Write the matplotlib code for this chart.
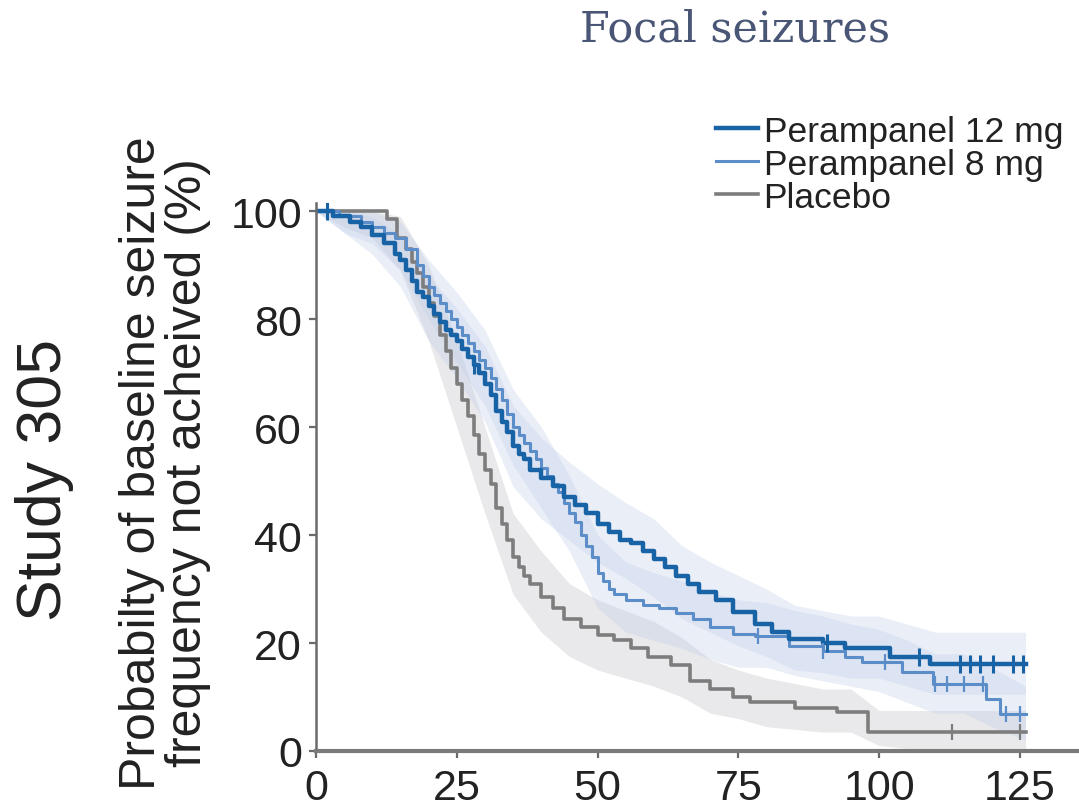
import numpy as np
import matplotlib
matplotlib.use('Agg')
import matplotlib.pyplot as plt

plt.rcParams['font.family'] = ['Liberation Sans', 'DejaVu Sans']

# Kaplan-Meier steps (day, % not achieved)
T_12 = [0, 3, 6, 8, 10, 12, 14, 15, 16, 17, 18, 19, 20, 21, 22, 23, 24, 25, 26, 27,
        28, 29, 30, 31, 32, 33, 34, 35, 36, 37, 38, 40, 42, 44, 46, 48, 50, 52, 54,
        56, 58, 60, 62, 64, 66, 68, 71, 74, 78, 81, 84, 90, 94, 102, 109, 126]
S_12 = [100, 99, 98, 97, 95.5, 94, 92, 91, 89, 87, 85, 84, 82.5, 81, 79.5, 78, 77,
        76, 74.5, 73, 71.5, 70, 68, 66, 63, 61, 59, 56.5, 55, 54, 52, 50.5, 49, 47,
        45.5, 44, 42, 40.5, 39, 38.5, 37, 35.5, 34, 32.5, 31, 29.5, 28, 25.7, 23.5,
        22, 20.7, 20, 19, 17.4, 16.1, 16.1]
C_12 = [2, 28, 90.8, 107, 114.4, 116.2, 118, 120.3, 123.8, 125.5]

T_8 = [0, 4, 8, 10, 12, 14, 16, 18, 19, 20, 21, 22, 23, 24, 25, 26, 27, 28, 29, 30,
       31, 32, 33, 34, 35, 36, 37, 38, 39, 40, 41, 42, 43, 44, 45, 46, 47, 48, 49,
       50, 51, 52, 53, 55, 58, 61, 64, 67, 70, 74, 78, 84, 90, 94, 97, 104, 109.6,
       119, 121.5, 126]
S_8 = [100, 99, 98, 97, 96, 95, 93, 90, 88, 86, 84.5, 83, 81.5, 80, 78.5, 77, 75.5,
       74, 72.5, 71, 69, 67, 65, 62.5, 60, 58.5, 57, 55.5, 54, 52.5, 51, 49.5, 48,
       46, 44, 42.5, 40, 38, 36, 33, 31.5, 30, 29, 28, 27, 26.5, 25.5, 24.4, 23,
       21.7, 21.3, 19.5, 18.5, 17.5, 16.5, 14.6, 12.4, 9.6, 6.8, 6.8]
C_8 = [78.5, 90, 101, 110, 112, 115, 118.5, 122.5, 125]

T_PBO = [0, 12.6, 14.4, 16, 17, 18, 19, 20, 21, 22, 23, 24, 25, 26, 27, 28, 29, 30,
         31, 32, 33, 34, 35, 36, 37, 38, 40, 42, 44, 47, 50, 53, 56, 59, 63, 66.4,
         70, 74, 77, 85, 92.5, 98, 126]
S_PBO = [100, 98.5, 95, 93, 90.5, 88.5, 86, 83, 80.5, 77, 74, 71, 68, 65, 62, 58.5,
         55, 52, 49.5, 45, 42, 39, 36, 34, 32.5, 31, 28.5, 26.5, 24.5, 23, 21.5,
         20.5, 19, 17.5, 16, 13, 11.5, 10, 9, 8, 7.2, 3.5, 3.5]
C_PBO = [113, 125]

# confidence bands
T_BAND = [0, 5, 10, 15, 20, 25, 30, 35, 40, 45, 50, 55, 60, 65, 70, 75, 80, 85, 90,
          95, 100, 105, 110, 115, 120, 126]
LO_12 = [100, 96, 92, 86, 76, 69, 61, 49, 43, 39, 35, 32, 28.5, 24.5, 22, 19.5, 17.5,
         15, 14.5, 13.5, 13.5, 12, 10.5, 10.5, 10.5, 10.5]
HI_12 = [100, 100, 99, 95.5, 88, 82, 75, 64, 58, 53.5, 49.5, 46, 43, 38, 35, 32.5, 30,
         27, 26, 25, 25, 23.5, 22, 22, 22, 22]
LO_8 = [100, 96, 94, 89, 80, 72, 64, 53, 45, 37, 26.5, 22, 20.5, 19, 17, 15.5, 15.5,
        14, 13, 12, 11, 9, 7, 7, 4.5, 2]
HI_8 = [100, 100, 100, 98, 91, 85, 78, 67, 60, 51, 40, 35, 33, 31.5, 29.5, 28, 27.5,
        26, 25, 23.5, 22.5, 20.5, 18, 18, 15.5, 12]
LO_PBO = [100, 97, 95, 89, 76, 60, 44, 29, 22, 17.5, 15, 13.5, 12, 10, 7, 6, 4.5, 4,
          3.5, 3.5, 1, 0.5, 0.5, 0.5, 0.5, 0.5]
HI_PBO = [100, 100, 100, 99, 90, 76, 60, 44, 37, 31, 28, 26, 24, 21, 17, 15, 13.5,
          12.5, 11.5, 11.5, 7.5, 7.5, 7.5, 7.5, 7.5, 7.5]

LABELS = ['Perampanel 12 mg', 'Perampanel 8 mg', 'Placebo']
X_TICKS = [0, 25, 50, 75, 100, 125]
Y_TICKS = [0, 20, 40, 60, 80, 100]

C12 = '#1862a6'
C8 = '#5b8dc9'
CPBO = '#7d7d7d'


def at(t, s, c):
    t = np.asarray(t)
    s = np.asarray(s)
    idx = np.searchsorted(t, c, side='right') - 1
    return s[idx]


fig = plt.figure(figsize=(10.79, 8.12), dpi=100)
ax = fig.add_axes([316 / 1079, 1 - 752 / 812, 1 - 316 / 1079, (752 - 204) / 812])

ax.fill_between(T_BAND, LO_PBO, HI_PBO, color='#c9cacd', alpha=0.4, lw=0)
ax.fill_between(T_BAND, LO_8, HI_8, color='#c3cfe9', alpha=0.35, lw=0)
ax.fill_between(T_BAND, LO_12, HI_12, color='#c3cfe9', alpha=0.35, lw=0)

l3, = ax.step(T_PBO, S_PBO, where='post', color=CPBO, lw=2.6)
l2, = ax.step(T_8, S_8, where='post', color=C8, lw=2.2)
l1, = ax.step(T_12, S_12, where='post', color=C12, lw=3.2)

ax.plot(C_PBO, at(T_PBO, S_PBO, C_PBO), ls='none', marker='|', ms=12, mew=1.6, color=CPBO)
ax.plot(C_8, at(T_8, S_8, C_8), ls='none', marker='|', ms=12, mew=1.6, color=C8)
ax.plot(C_12, at(T_12, S_12, C_12), ls='none', marker='|', ms=13, mew=2.2, color=C12)

ax.set_xlim(0, 135.5)
ax.set_ylim(0, 101.5)
ax.set_xticks(X_TICKS)
ax.set_yticks(Y_TICKS)
for side in ['top', 'right']:
    ax.spines[side].set_visible(False)
ax.spines['left'].set_color('#6a6a6a')
ax.spines['left'].set_linewidth(1.8)
ax.spines['bottom'].set_color('#7a7a7a')
ax.spines['bottom'].set_linewidth(3)
ax.tick_params(axis='both', direction='out', length=5, width=1.6, color='#6a6a6a',
               labelsize=31, labelcolor='#222222')
ax.tick_params(axis='x', pad=7)
ax.tick_params(axis='y', pad=5)

fig.legend([l1, l2, l3], LABELS, loc='upper left',
           bbox_to_anchor=(698 / 1079, 1 - 98 / 812), frameon=False,
           fontsize=25.5, handlelength=1.2, handletextpad=0.15, labelspacing=0.0,
           borderpad=0, labelcolor='#222222')

fig.text(735 / 1079, 1 - 30 / 812, 'Focal seizures', family='DejaVu Serif',
         fontsize=31, color='#4a5675', ha='center', va='center')
fig.text(45 / 1079, 1 - 480 / 812, 'Study 305', fontsize=45, color='#222222',
         rotation=90, ha='center', va='center')
fig.text(165 / 1079, 1 - 463 / 812,
         'Probabilty of baseline seizure\nfrequency not acheived (%)',
         fontsize=36, color='#222222', rotation=90, ha='center', va='center',
         multialignment='center', linespacing=1.0)

fig.savefig('out.png', dpi=100)
